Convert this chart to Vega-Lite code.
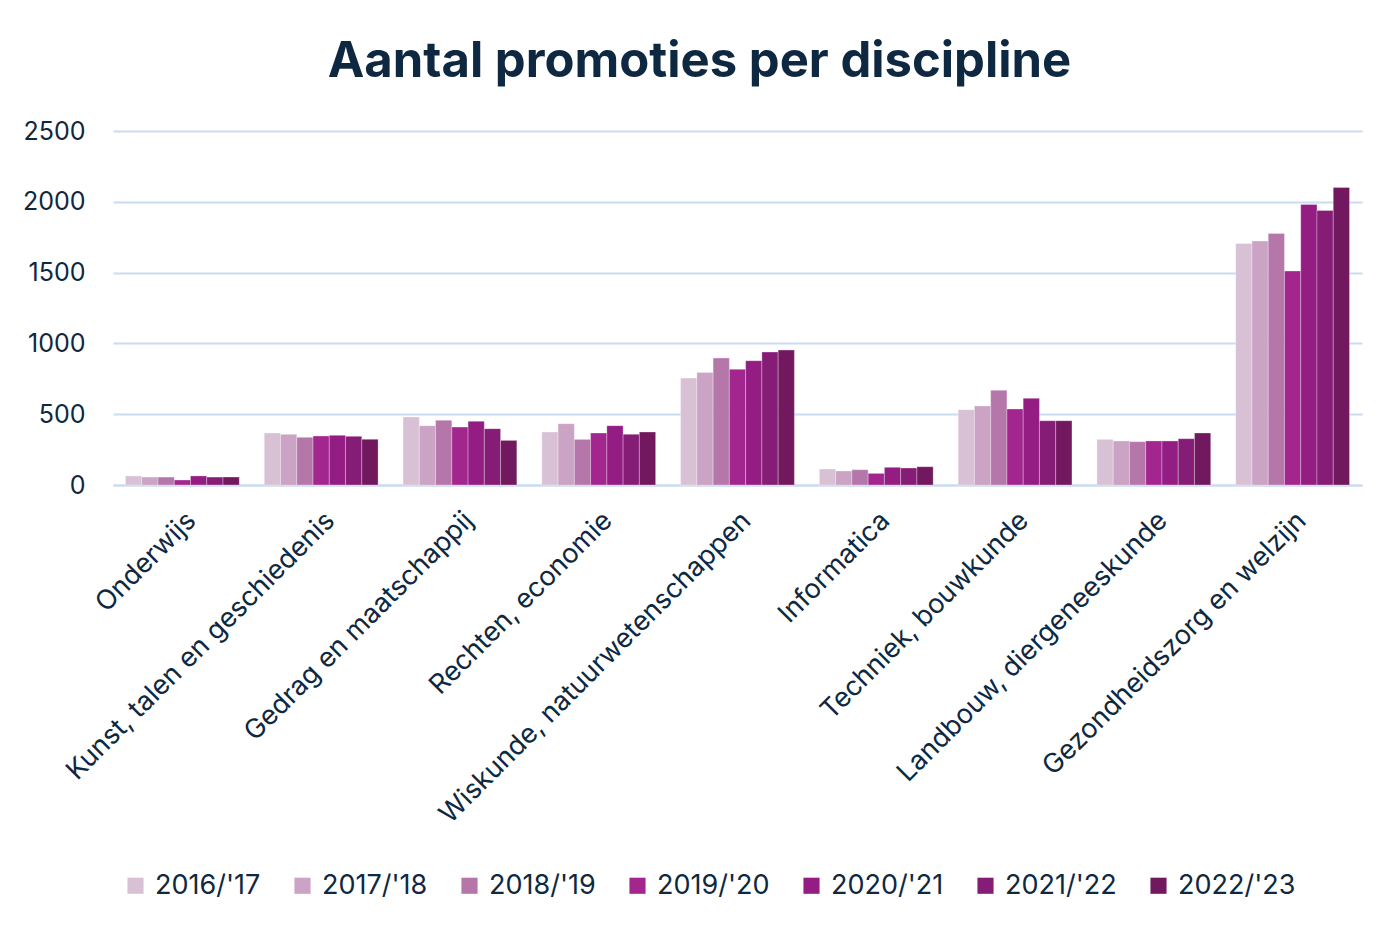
{
  "$schema": "https://vega.github.io/schema/vega-lite/v6.json",
  "autosize": {"type": "none"},
  "padding": {"left": 113, "top": 131, "right": 38, "bottom": 451},
  "width": 1249,
  "height": 354,
  "background": "white",
  "title": {
    "text": "Aantal promoties per discipline",
    "font": "Inter",
    "fontSize": 49,
    "fontWeight": "bold",
    "color": "#0E2841",
    "anchor": "middle",
    "frame": "group",
    "dx": -38,
    "offset": 32
  },
  "data": {
    "values": [
      {"d": "Onderwijs", "j": "2016/'17", "v": 64},
      {"d": "Onderwijs", "j": "2017/'18", "v": 56},
      {"d": "Onderwijs", "j": "2018/'19", "v": 56},
      {"d": "Onderwijs", "j": "2019/'20", "v": 35},
      {"d": "Onderwijs", "j": "2020/'21", "v": 64},
      {"d": "Onderwijs", "j": "2021/'22", "v": 56},
      {"d": "Onderwijs", "j": "2022/'23", "v": 56},
      {"d": "Kunst, talen en geschiedenis", "j": "2016/'17", "v": 367},
      {"d": "Kunst, talen en geschiedenis", "j": "2017/'18", "v": 358},
      {"d": "Kunst, talen en geschiedenis", "j": "2018/'19", "v": 337},
      {"d": "Kunst, talen en geschiedenis", "j": "2019/'20", "v": 346},
      {"d": "Kunst, talen en geschiedenis", "j": "2020/'21", "v": 351},
      {"d": "Kunst, talen en geschiedenis", "j": "2021/'22", "v": 344},
      {"d": "Kunst, talen en geschiedenis", "j": "2022/'23", "v": 323},
      {"d": "Gedrag en maatschappij", "j": "2016/'17", "v": 480},
      {"d": "Gedrag en maatschappij", "j": "2017/'18", "v": 419},
      {"d": "Gedrag en maatschappij", "j": "2018/'19", "v": 457},
      {"d": "Gedrag en maatschappij", "j": "2019/'20", "v": 409},
      {"d": "Gedrag en maatschappij", "j": "2020/'21", "v": 450},
      {"d": "Gedrag en maatschappij", "j": "2021/'22", "v": 398},
      {"d": "Gedrag en maatschappij", "j": "2022/'23", "v": 315},
      {"d": "Rechten, economie", "j": "2016/'17", "v": 374},
      {"d": "Rechten, economie", "j": "2017/'18", "v": 433},
      {"d": "Rechten, economie", "j": "2018/'19", "v": 322},
      {"d": "Rechten, economie", "j": "2019/'20", "v": 367},
      {"d": "Rechten, economie", "j": "2020/'21", "v": 419},
      {"d": "Rechten, economie", "j": "2021/'22", "v": 358},
      {"d": "Rechten, economie", "j": "2022/'23", "v": 374},
      {"d": "Wiskunde, natuurwetenschappen", "j": "2016/'17", "v": 755},
      {"d": "Wiskunde, natuurwetenschappen", "j": "2017/'18", "v": 795},
      {"d": "Wiskunde, natuurwetenschappen", "j": "2018/'19", "v": 897},
      {"d": "Wiskunde, natuurwetenschappen", "j": "2019/'20", "v": 817},
      {"d": "Wiskunde, natuurwetenschappen", "j": "2020/'21", "v": 878},
      {"d": "Wiskunde, natuurwetenschappen", "j": "2021/'22", "v": 939},
      {"d": "Wiskunde, natuurwetenschappen", "j": "2022/'23", "v": 953},
      {"d": "Informatica", "j": "2016/'17", "v": 113},
      {"d": "Informatica", "j": "2017/'18", "v": 99},
      {"d": "Informatica", "j": "2018/'19", "v": 108},
      {"d": "Informatica", "j": "2019/'20", "v": 82},
      {"d": "Informatica", "j": "2020/'21", "v": 125},
      {"d": "Informatica", "j": "2021/'22", "v": 120},
      {"d": "Informatica", "j": "2022/'23", "v": 129},
      {"d": "Techniek, bouwkunde", "j": "2016/'17", "v": 532},
      {"d": "Techniek, bouwkunde", "j": "2017/'18", "v": 558},
      {"d": "Techniek, bouwkunde", "j": "2018/'19", "v": 669},
      {"d": "Techniek, bouwkunde", "j": "2019/'20", "v": 537},
      {"d": "Techniek, bouwkunde", "j": "2020/'21", "v": 612},
      {"d": "Techniek, bouwkunde", "j": "2021/'22", "v": 454},
      {"d": "Techniek, bouwkunde", "j": "2022/'23", "v": 454},
      {"d": "Landbouw, diergeneeskunde", "j": "2016/'17", "v": 322},
      {"d": "Landbouw, diergeneeskunde", "j": "2017/'18", "v": 311},
      {"d": "Landbouw, diergeneeskunde", "j": "2018/'19", "v": 306},
      {"d": "Landbouw, diergeneeskunde", "j": "2019/'20", "v": 311},
      {"d": "Landbouw, diergeneeskunde", "j": "2020/'21", "v": 311},
      {"d": "Landbouw, diergeneeskunde", "j": "2021/'22", "v": 327},
      {"d": "Landbouw, diergeneeskunde", "j": "2022/'23", "v": 367},
      {"d": "Gezondheidszorg en welzijn", "j": "2016/'17", "v": 1706},
      {"d": "Gezondheidszorg en welzijn", "j": "2017/'18", "v": 1723},
      {"d": "Gezondheidszorg en welzijn", "j": "2018/'19", "v": 1777},
      {"d": "Gezondheidszorg en welzijn", "j": "2019/'20", "v": 1511},
      {"d": "Gezondheidszorg en welzijn", "j": "2020/'21", "v": 1981},
      {"d": "Gezondheidszorg en welzijn", "j": "2021/'22", "v": 1939},
      {"d": "Gezondheidszorg en welzijn", "j": "2022/'23", "v": 2101}
    ]
  },
  "mark": {"type": "bar", "stroke": "white", "strokeWidth": 0.6, "strokeOpacity": 0.5},
  "encoding": {
    "x": {
      "field": "d",
      "type": "nominal",
      "sort": null,
      "title": null,
      "scale": {"paddingInner": 0.18, "paddingOuter": 0.09},
      "axis": {
        "labelAngle": -45,
        "labelFontSize": 27,
        "labelFont": "Inter",
        "labelColor": "#0E2841",
        "labelPadding": 22,
        "ticks": false,
        "domainColor": "#C9DCF0",
        "domainWidth": 2,
        "labelLimit": 600
      }
    },
    "xOffset": {"field": "j", "type": "nominal", "sort": null},
    "y": {
      "field": "v",
      "type": "quantitative",
      "title": null,
      "scale": {"domain": [0, 2500]},
      "axis": {
        "values": [0, 500, 1000, 1500, 2000, 2500],
        "format": "d",
        "labelFontSize": 25,
        "labelFont": "Inter",
        "labelColor": "#0E2841",
        "labelPadding": 28,
        "ticks": false,
        "domain": false,
        "gridColor": "#C9DCF0",
        "gridWidth": 2
      }
    },
    "color": {
      "field": "j",
      "type": "nominal",
      "sort": null,
      "title": null,
      "scale": {
        "range": ["#D9C1D5", "#CBA3C4", "#B577AA", "#A3268F", "#941D84", "#851D77", "#71185F"]
      },
      "legend": {
        "orient": "none",
        "direction": "horizontal",
        "legendX": 9,
        "legendY": 741,
        "symbolType": "square",
        "symbolSize": 260,
        "symbolStrokeWidth": 0,
        "labelFontSize": 27,
        "labelFont": "Inter",
        "labelColor": "#0E2841",
        "labelOffset": 6,
        "columnPadding": 28
      }
    }
  },
  "config": {"view": {"stroke": null}}
}
